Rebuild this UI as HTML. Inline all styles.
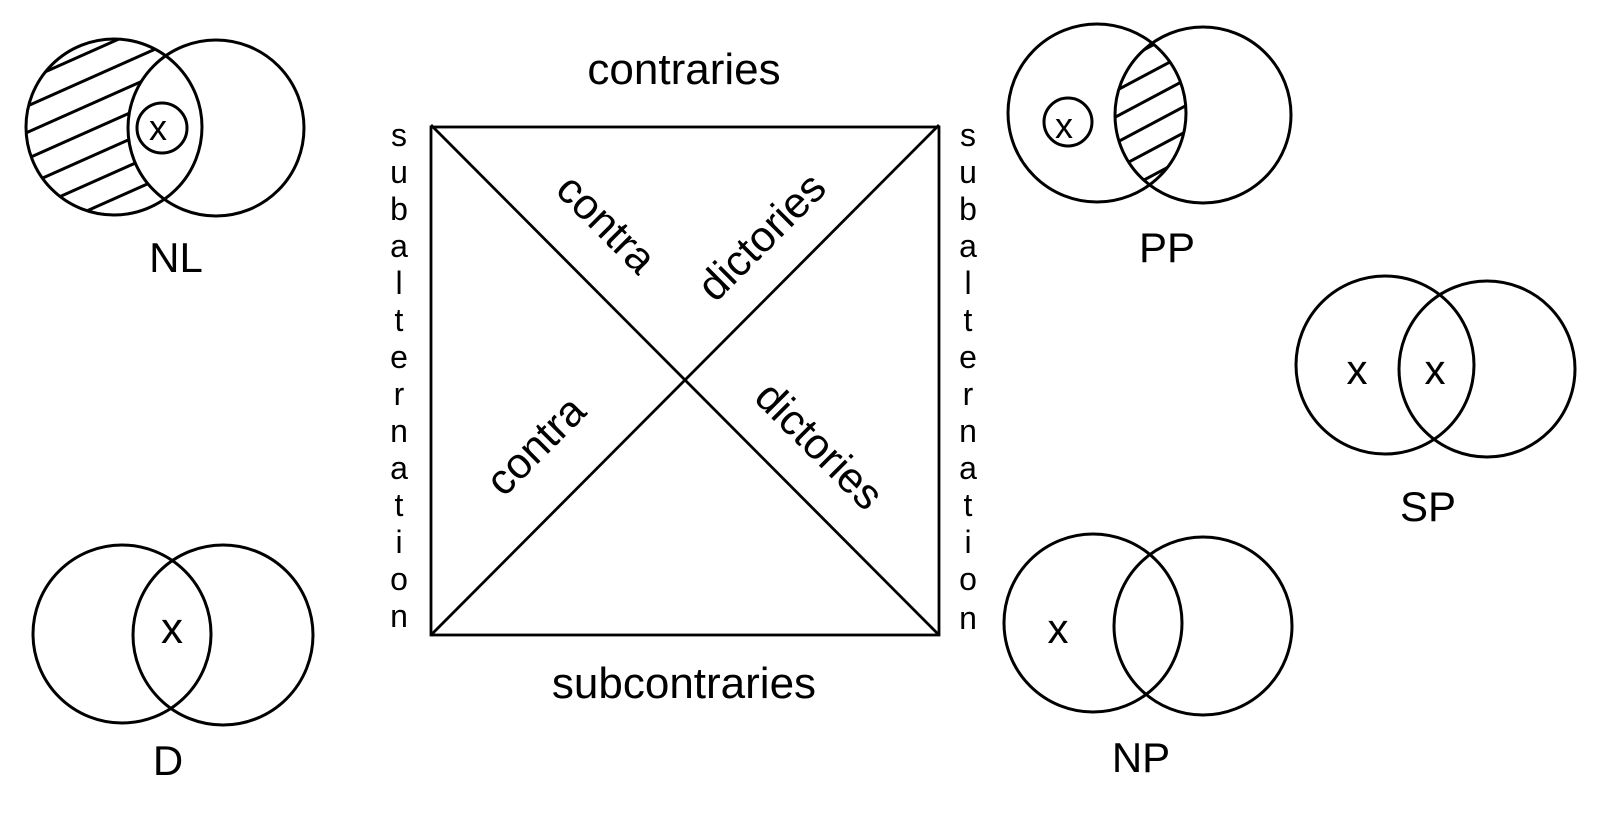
<!DOCTYPE html>
<html>
<head>
<meta charset="utf-8">
<style>
  html, body { margin: 0; padding: 0; background: #ffffff; }
  body { width: 1600px; height: 813px; overflow: hidden; }
  svg { display: block; }
  text { font-family: "Liberation Sans", Arial, sans-serif; fill: #000; }
</style>
</head>
<body>
<svg width="1600" height="813" viewBox="0 0 1600 813" xmlns="http://www.w3.org/2000/svg">
  <defs>
    <pattern id="hatchNL" patternUnits="userSpaceOnUse" width="24" height="24" patternTransform="rotate(-24)">
      <line x1="0" y1="12" x2="24" y2="12" stroke="#000" stroke-width="3"/>
    </pattern>
    <pattern id="hatchPP" patternUnits="userSpaceOnUse" width="23" height="23" patternTransform="rotate(-28)">
      <line x1="0" y1="6" x2="23" y2="6" stroke="#000" stroke-width="3"/>
    </pattern>
    <mask id="maskNL">
      <circle cx="114" cy="127" r="88" fill="#fff"/>
      <circle cx="216" cy="128" r="88" fill="#000"/>
    </mask>
    <clipPath id="clipPPL">
      <circle cx="1097" cy="113" r="89"/>
    </clipPath>
    <clipPath id="clipPPR">
      <circle cx="1203" cy="115" r="88"/>
    </clipPath>
  </defs>

  <g fill="none" stroke="#000" stroke-width="2.8">
    <rect x="431" y="127" width="508" height="508"/>
    <line x1="431" y1="125" x2="939" y2="635"/>
    <line x1="431" y1="635" x2="939" y2="125"/>
  </g>

  <rect x="20" y="30" width="200" height="200" fill="url(#hatchNL)" mask="url(#maskNL)"/>
  <g clip-path="url(#clipPPL)">
    <rect x="1100" y="20" width="110" height="190" fill="url(#hatchPP)" clip-path="url(#clipPPR)"/>
  </g>

  <g fill="none" stroke="#000" stroke-width="3">
    <circle cx="114" cy="127" r="88"/>
    <circle cx="216" cy="128" r="88"/>
    <circle cx="162" cy="128" r="25" fill="#fff"/>
    <circle cx="1097" cy="113" r="89"/>
    <circle cx="1203" cy="115" r="88"/>
    <circle cx="1068" cy="122" r="24"/>
    <circle cx="1385" cy="365" r="89"/>
    <circle cx="1487" cy="369" r="88"/>
    <circle cx="122" cy="634" r="89"/>
    <circle cx="223" cy="635" r="90"/>
    <circle cx="1093" cy="623" r="89"/>
    <circle cx="1203" cy="626" r="89"/>
  </g>

  <text x="158" y="140" font-size="36" text-anchor="middle">x</text>
  <text x="1064" y="138" font-size="36" text-anchor="middle">x</text>
  <text x="1357" y="384" font-size="42" text-anchor="middle">x</text>
  <text x="1435" y="384" font-size="42" text-anchor="middle">x</text>
  <text x="172" y="643" font-size="44" text-anchor="middle">x</text>
  <text x="1058" y="643" font-size="42" text-anchor="middle">x</text>

  <text x="176" y="272" font-size="42" text-anchor="middle">NL</text>
  <text x="1167" y="262" font-size="42" text-anchor="middle">PP</text>
  <text x="1428" y="521" font-size="42" text-anchor="middle">SP</text>
  <text x="168" y="775" font-size="42" text-anchor="middle">D</text>
  <text x="1141" y="772" font-size="42" text-anchor="middle">NP</text>

  <text x="684" y="84" font-size="44" text-anchor="middle">contraries</text>
  <text x="684" y="698" font-size="44" text-anchor="middle">subcontraries</text>

  <text transform="translate(606,224) rotate(45)" x="0" y="14" font-size="43" text-anchor="middle">contra</text>
  <text transform="translate(762,237) rotate(-45)" x="0" y="14" font-size="43" text-anchor="middle">dictories</text>
  <text transform="translate(536,446) rotate(-45)" x="0" y="14" font-size="43" text-anchor="middle">contra</text>
  <text transform="translate(819,446) rotate(45)" x="0" y="14" font-size="43" text-anchor="middle">dictories</text>

  <g font-size="32" text-anchor="middle">
    <text x="399" y="146">s</text>
    <text x="399" y="183">u</text>
    <text x="399" y="220">b</text>
    <text x="399" y="257">a</text>
    <text x="399" y="294">l</text>
    <text x="399" y="331">t</text>
    <text x="399" y="368">e</text>
    <text x="399" y="405">r</text>
    <text x="399" y="442">n</text>
    <text x="399" y="479">a</text>
    <text x="399" y="516">t</text>
    <text x="399" y="553">i</text>
    <text x="399" y="590">o</text>
    <text x="399" y="627">n</text>
  </g>
  <g font-size="32" text-anchor="middle">
    <text x="968" y="146">s</text>
    <text x="968" y="183">u</text>
    <text x="968" y="220">b</text>
    <text x="968" y="257">a</text>
    <text x="968" y="294">l</text>
    <text x="968" y="331">t</text>
    <text x="968" y="368">e</text>
    <text x="968" y="405">r</text>
    <text x="968" y="442">n</text>
    <text x="968" y="479">a</text>
    <text x="968" y="516">t</text>
    <text x="968" y="553">i</text>
    <text x="968" y="590">o</text>
    <text x="968" y="629">n</text>
  </g>
</svg>
</body>
</html>
